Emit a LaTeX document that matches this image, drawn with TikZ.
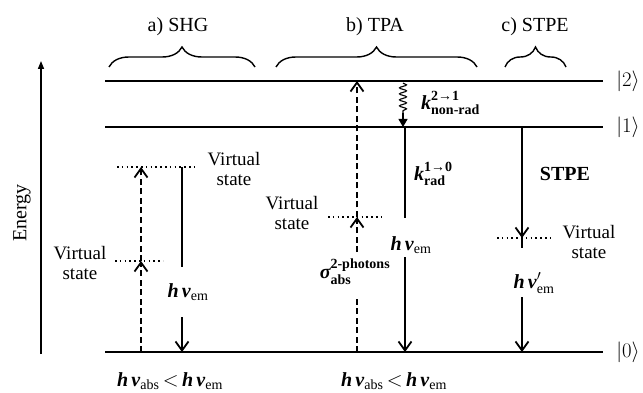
\documentclass[tikz,border=0pt]{standalone}
\usepackage{fontspec}
\usepackage{amsmath}
\setmainfont{Liberation Serif}
\usetikzlibrary{arrows.meta,decorations.pathreplacing,decorations.pathmorphing}
\begin{document}
\begin{tikzpicture}[x=1pt,y=-1pt,
  lbl/.style={font=\fontsize{20}{18}\selectfont, inner sep=0pt, align=center},
  vlbl/.style={font=\fontsize{19}{20}\selectfont, inner sep=0pt, align=center},
  lvl/.style={line width=2.2pt},
  em/.style={line width=1.8pt},
  barb/.style={-{Straight Barb[length=9pt,width=13pt,line width=1.8pt]}},
  emarr/.style={em, barb},
  absarr/.style={line width=1.8pt, dash pattern=on 6pt off 3.5pt, barb},
  virt/.style={line width=1.5pt, dash pattern=on 1.5pt off 3.3pt},
  brc/.style={decorate, decoration={brace, amplitude=20pt, aspect=0.5}, line width=1.4pt}
]
\useasboundingbox (0,0) rectangle (643,393);

% energy axis
\coordinate (ax0) at (41,354);
\coordinate (ax1) at (41,61);
\draw[line width=1.5pt, -{Triangle[length=8pt,width=6pt]}] (ax0) -- (ax1);
\node[lbl, rotate=90] (energy) at (22,213) {Energy};

% levels
\coordinate (l2a) at (105,81);  \coordinate (l2b) at (603,81);
\coordinate (l1a) at (105,127); \coordinate (l1b) at (603,127);
\coordinate (l0a) at (105,352); \coordinate (l0b) at (603,352);
\draw[lvl] (l2a) -- (l2b);
\draw[lvl] (l1a) -- (l1b);
\draw[lvl] (l0a) -- (l0b);
\node[lbl, font=\fontsize{22}{22}\selectfont] (k2) at (628,81) {$|2\rangle$};
\node[lbl, font=\fontsize{22}{22}\selectfont] (k1) at (628,127) {$|1\rangle$};
\node[lbl, font=\fontsize{22}{22}\selectfont] (k0) at (628,352) {$|0\rangle$};

% braces and titles
\coordinate (ba1) at (109,67); \coordinate (ba2) at (255,67);
\coordinate (bb1) at (276,67); \coordinate (bb2) at (477,67);
\coordinate (bc1) at (505,67); \coordinate (bc2) at (566,67);
\draw[brc] (ba1) -- (ba2);
\draw[brc] (bb1) -- (bb2);
\draw[brc] (bc1) -- (bc2);
\node[lbl] (ta) at (178,27) {a) SHG};
\node[lbl] (tb) at (375,27) {b) TPA};
\node[lbl] (tc) at (535,27) {c) STPE};

% ---- a) SHG
\coordinate (a0) at (141,352);
\coordinate (av1) at (141,261);
\coordinate (av2) at (141,167);
\coordinate (va1) at (115,261); \coordinate (va2) at (163,261);
\coordinate (vb1) at (117,167); \coordinate (vb2) at (198,167);
\draw[virt] (va1) -- (va2);
\draw[virt] (vb1) -- (vb2);
\draw[absarr] (a0) -- (av1);
\draw[absarr] (av1) -- (av2);
\node[vlbl] (vsa1) at (234,169) {Virtual\\state};
\node[vlbl] (vsa2) at (80,263) {Virtual\\state};
\coordinate (ae0) at (182,167);
\coordinate (ae1) at (182,267);
\coordinate (ae2) at (182,317);
\coordinate (ae3) at (182,352);
\draw[em] (ae0) -- (ae1);
\draw[emarr] (ae2) -- (ae3);
\node[lbl] (hva) at (188,292) {{\bfseries\itshape h\,ν}$_{\text{em}}$};
\node[lbl] (ba) at (170,381) {{\bfseries\itshape h\,ν}$_{\text{abs}}$\,$<$\,{\bfseries\itshape h\,ν}$_{\text{em}}$};

% ---- b) TPA
\coordinate (b0) at (357,352);
\coordinate (b1) at (357,297);
\coordinate (b2) at (357,252);
\coordinate (bv) at (357,217);
\coordinate (b3) at (357,81);
\coordinate (vc1) at (328,217); \coordinate (vc2) at (383,217);
\draw[virt] (vc1) -- (vc2);
\draw[line width=1.8pt, dash pattern=on 6pt off 3.5pt] (b0) -- (b1);
\draw[absarr] (b2) -- (bv);
\draw[absarr] (bv) -- (b3);
\node[lbl] (sig) at (355,272) {$\text{\bfseries\itshape σ}^{\text{\bfseries 2-photons}}_{\text{\bfseries abs}}$};
\node[vlbl] (vsb) at (292,213) {Virtual\\state};
% non-radiative
\coordinate (w0) at (403,83);
\coordinate (w1) at (403,113);
\coordinate (w2) at (403,127);
\draw[line width=1.1pt, decorate, decoration={snake, amplitude=3.5pt, segment length=6pt}] (w0) -- (w1);
\draw[line width=1.1pt, -{Triangle[length=8pt,width=9pt]}] (w1) -- (w2);
\node[lbl, anchor=west] (knr) at (421,103) {$\text{\bfseries\itshape k}^{\text{\bfseries 2→1}}_{\text{\bfseries non-rad}}$};
% radiative
\coordinate (be0) at (405,127);
\coordinate (be1) at (405,218);
\coordinate (be2) at (405,257);
\coordinate (be3) at (405,352);
\draw[em] (be0) -- (be1);
\draw[emarr] (be2) -- (be3);
\node[lbl, anchor=west] (kr) at (414,174) {$\text{\bfseries\itshape k}^{\text{\bfseries 1→0}}_{\text{\bfseries rad}}$};
\node[lbl] (hvb) at (411,245) {{\bfseries\itshape h\,ν}$_{\text{em}}$};
\node[lbl] (bb) at (394,381) {{\bfseries\itshape h\,ν}$_{\text{abs}}$\,$<$\,{\bfseries\itshape h\,ν}$_{\text{em}}$};

% ---- c) STPE
\coordinate (c0) at (522,127);
\coordinate (cv) at (522,238);
\coordinate (c1) at (522,248);
\coordinate (c2) at (522,297);
\coordinate (c3) at (522,352);
\coordinate (vd1) at (497,238); \coordinate (vd2) at (550,238);
\draw[virt] (vd1) -- (vd2);
\draw[emarr] (c0) -- (cv);
\draw[em] (cv) -- (c1);
\draw[emarr] (c2) -- (c3);
\node[lbl, font=\bfseries\fontsize{20}{18}\selectfont] (stpe) at (565,174) {STPE};
\node[vlbl] (vsc) at (589,242) {Virtual\\state};
\node[lbl] (hvc) at (534,283) {{\bfseries\itshape h\,ν}$'_{\text{em}}$};
\end{tikzpicture}
\end{document}
